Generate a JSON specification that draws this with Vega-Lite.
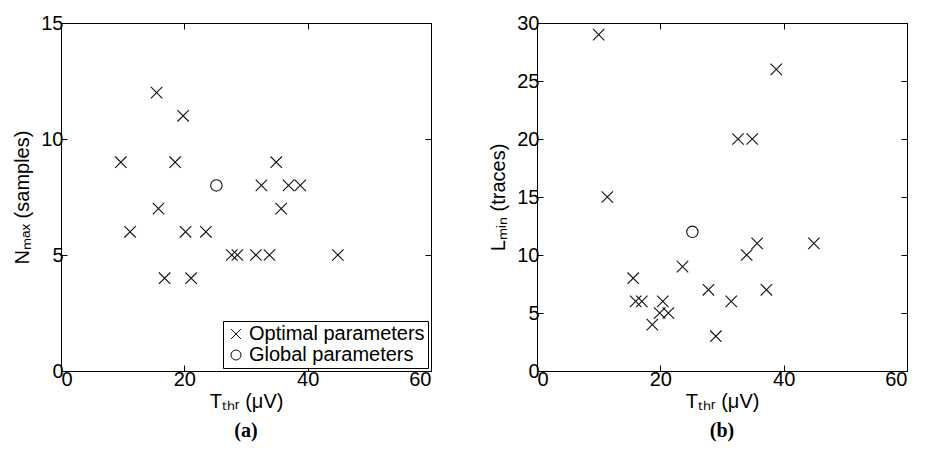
{
  "$schema": "https://vega.github.io/schema/vega-lite/v6.json",
  "padding": {"left": 12, "top": 12, "right": 0, "bottom": 5},
  "background": "white",
  "bounds": "flush",
  "spacing": 106,
  "config": {
    "font": "Liberation Sans",
    "view": {"stroke": "#000", "strokeWidth": 1},
    "axis": {"grid": false, "domain": false, "tickColor": "#000", "tickSize": -6, "labelColor": "#000", "titleColor": "#000", "labelFontSize": 20, "titleFontSize": 20, "titleFontWeight": "normal", "labelPadding": 4},
    "title": {"font": "Liberation Serif", "fontWeight": "bold", "fontSize": 20, "color": "#000", "orient": "bottom", "offset": 10}
  },
  "resolve": {"legend": {"shape": "independent"}},
  "datasets": {
    "a": [
      {"T": 9.7, "N": 9, "type": "Optimal parameters"},
      {"T": 11.2, "N": 6, "type": "Optimal parameters"},
      {"T": 15.5, "N": 12, "type": "Optimal parameters"},
      {"T": 15.8, "N": 7, "type": "Optimal parameters"},
      {"T": 16.8, "N": 4, "type": "Optimal parameters"},
      {"T": 18.5, "N": 9, "type": "Optimal parameters"},
      {"T": 19.8, "N": 11, "type": "Optimal parameters"},
      {"T": 20.2, "N": 6, "type": "Optimal parameters"},
      {"T": 21.1, "N": 4, "type": "Optimal parameters"},
      {"T": 23.5, "N": 6, "type": "Optimal parameters"},
      {"T": 27.7, "N": 5, "type": "Optimal parameters"},
      {"T": 28.6, "N": 5, "type": "Optimal parameters"},
      {"T": 31.6, "N": 5, "type": "Optimal parameters"},
      {"T": 32.5, "N": 8, "type": "Optimal parameters"},
      {"T": 33.8, "N": 5, "type": "Optimal parameters"},
      {"T": 34.9, "N": 9, "type": "Optimal parameters"},
      {"T": 35.7, "N": 7, "type": "Optimal parameters"},
      {"T": 36.9, "N": 8, "type": "Optimal parameters"},
      {"T": 38.8, "N": 8, "type": "Optimal parameters"},
      {"T": 44.9, "N": 5, "type": "Optimal parameters"},
      {"T": 25.2, "N": 8, "type": "Global parameters"}
    ],
    "b": [
      {"T": 10.0, "L": 29, "type": "Optimal parameters"},
      {"T": 11.4, "L": 15, "type": "Optimal parameters"},
      {"T": 15.6, "L": 8, "type": "Optimal parameters"},
      {"T": 16.0, "L": 6, "type": "Optimal parameters"},
      {"T": 17.0, "L": 6, "type": "Optimal parameters"},
      {"T": 18.7, "L": 4, "type": "Optimal parameters"},
      {"T": 19.9, "L": 5, "type": "Optimal parameters"},
      {"T": 20.4, "L": 6, "type": "Optimal parameters"},
      {"T": 21.3, "L": 5, "type": "Optimal parameters"},
      {"T": 23.6, "L": 9, "type": "Optimal parameters"},
      {"T": 27.8, "L": 7, "type": "Optimal parameters"},
      {"T": 29.0, "L": 3, "type": "Optimal parameters"},
      {"T": 31.5, "L": 6, "type": "Optimal parameters"},
      {"T": 32.6, "L": 20, "type": "Optimal parameters"},
      {"T": 34.0, "L": 10, "type": "Optimal parameters"},
      {"T": 34.9, "L": 20, "type": "Optimal parameters"},
      {"T": 35.7, "L": 11, "type": "Optimal parameters"},
      {"T": 37.2, "L": 7, "type": "Optimal parameters"},
      {"T": 38.8, "L": 26, "type": "Optimal parameters"},
      {"T": 44.9, "L": 11, "type": "Optimal parameters"},
      {"T": 25.2, "L": 12, "type": "Global parameters"}
    ]
  },
  "hconcat": [
    {
      "width": 370,
      "height": 348,
      "title": "(a)",
      "data": {"name": "a"},
      "resolve": {"axis": {"x": "independent", "y": "independent"}},
      "layer": [
        {
          "mark": {"type": "point", "filled": false, "strokeWidth": 1.1, "color": "#111", "size": 130, "opacity": 1},
          "encoding": {
            "x": {"field": "T", "type": "quantitative", "scale": {"domain": [0, 60], "nice": false}, "axis": {"values": [0, 20, 40, 60], "title": "Tₜₕᵣ (μV)", "titlePadding": 2}},
            "y": {"field": "N", "type": "quantitative", "scale": {"domain": [0, 15], "nice": false}, "axis": {"values": [0, 5, 10, 15], "title": "Nₘₐₓ (samples)", "titlePadding": 8}},
            "shape": {"field": "type", "type": "nominal", "scale": {"domain": ["Optimal parameters", "Global parameters"], "range": ["M-1,-1L1,1M-1,1L1,-1", "circle"]},
              "legend": {"title": null, "orient": "bottom-right", "offset": 3, "strokeColor": "#000", "fillColor": "white", "padding": 3, "labelFontSize": 20, "labelLimit": 0, "labelColor": "#000", "labelOffset": 3, "symbolSize": 100, "symbolStrokeColor": "#111", "symbolStrokeWidth": 1, "rowPadding": 1}}
          }
        },
        {
          "mark": {"type": "point", "opacity": 0},
          "encoding": {
            "x": {"field": "T", "type": "quantitative", "axis": {"orient": "top", "values": [0, 20, 40, 60], "labels": false, "title": null}},
            "y": {"field": "N", "type": "quantitative", "axis": {"orient": "right", "values": [0, 5, 10, 15], "labels": false, "title": null}}
          }
        }
      ]
    },
    {
      "width": 370,
      "height": 348,
      "title": "(b)",
      "data": {"name": "b"},
      "resolve": {"axis": {"x": "independent", "y": "independent"}},
      "layer": [
        {
          "mark": {"type": "point", "filled": false, "strokeWidth": 1.1, "color": "#111", "size": 130, "opacity": 1},
          "encoding": {
            "x": {"field": "T", "type": "quantitative", "scale": {"domain": [0, 60], "nice": false}, "axis": {"values": [0, 20, 40, 60], "title": "Tₜₕᵣ (μV)", "titlePadding": 2}},
            "y": {"field": "L", "type": "quantitative", "scale": {"domain": [0, 30], "nice": false}, "axis": {"values": [0, 5, 10, 15, 20, 25, 30], "title": "Lₘᵢₙ (traces)", "titlePadding": 8}},
            "shape": {"field": "type", "type": "nominal", "scale": {"domain": ["Optimal parameters", "Global parameters"], "range": ["M-1,-1L1,1M-1,1L1,-1", "circle"]}, "legend": null}
          }
        },
        {
          "mark": {"type": "point", "opacity": 0},
          "encoding": {
            "x": {"field": "T", "type": "quantitative", "axis": {"orient": "top", "values": [0, 20, 40, 60], "labels": false, "title": null}},
            "y": {"field": "L", "type": "quantitative", "axis": {"orient": "right", "values": [0, 5, 10, 15, 20, 25, 30], "labels": false, "title": null}}
          }
        }
      ]
    }
  ]
}
